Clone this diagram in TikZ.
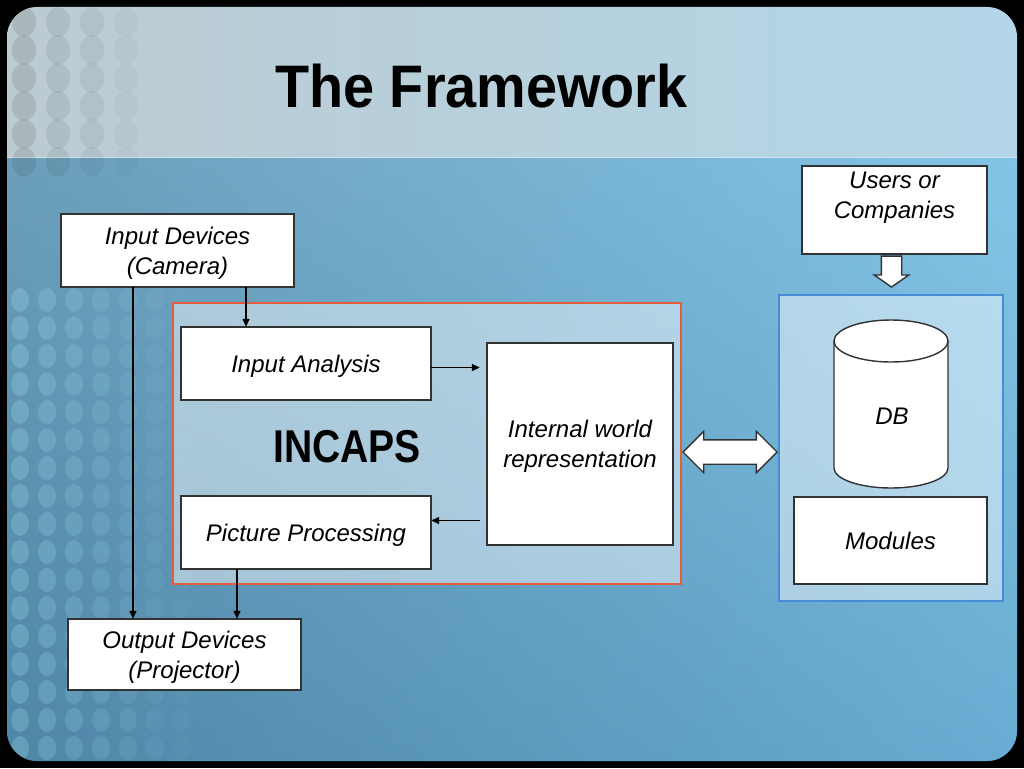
\documentclass[tikz,border=0pt]{standalone}
\usepackage{fontspec}
\setmainfont{Liberation Sans}
\usetikzlibrary{shapes.arrows,arrows.meta,calc}
\definecolor{topL}{RGB}{188,203,209}
\definecolor{topM}{RGB}{224,237,242}
\definecolor{topR}{RGB}{178,214,232}
\definecolor{lowT}{RGB}{150,203,228}
\definecolor{lowB}{RGB}{100,158,192}
\definecolor{hL}{RGB}{55,105,135}
\definecolor{hM}{RGB}{205,232,245}
\definecolor{hR}{RGB}{110,190,235}
\definecolor{boxline}{RGB}{50,50,50}
\definecolor{redline}{RGB}{228,92,60}
\definecolor{blueline}{RGB}{70,140,215}
\definecolor{dotc}{RGB}{160,225,240}
\begin{document}
\begin{tikzpicture}[x=1pt,y=-1pt,
  box/.style={fill=white, inner sep=0pt, align=center,
    text depth=0pt, font=\fontsize{24}{30}\selectfont\itshape},
  outline/.style={draw=boxline, line width=1.9pt},
  arr/.style={line width=1.3pt, draw=black, -{Triangle[length=8pt,width=7pt]}},
  blockarr/.style={draw=boxline, line width=1.4pt, fill=white, inner xsep=0pt},
  txt/.style={font=\fontsize{24}{30}\selectfont\itshape, align=center, inner sep=0pt, text depth=0pt}]
\useasboundingbox (0,0) rectangle (1024,768);
\fill[black] (0,0) rectangle (1024,768);
\begin{scope}
  \clip[rounded corners=30pt] (7,7) rectangle (1017,761);
  \shade[left color=topL, middle color=topM, right color=topR] (7,7) rectangle (1017,157);
  \shade[top color=lowT, bottom color=lowB] (7,157) rectangle (1017,761);
  \shade[left color=hL, middle color=hM, right color=hR, opacity=0.45] (7,157) rectangle (1017,761);
  \draw[white!70!lowB, line width=1pt] (7,157) -- (1017,157);
  % decorative dots, upper left
  \foreach \i in {0,...,3}{
    \foreach \j in {0,...,5}{
      \pgfmathsetmacro{\op}{0.13-0.03*\i}
      \fill[black!70!topL, opacity=\op] (24+\i*34, 22+\j*28) ellipse [x radius=12pt, y radius=15pt];
    }
  }
  % decorative dots, lower left
  \foreach \i in {0,...,6}{
    \foreach \j in {0,...,16}{
      \pgfmathsetmacro{\op}{0.26-0.036*\i}
      \fill[dotc, opacity=\op] (20+\i*27, 300+\j*28) ellipse [x radius=9pt, y radius=12pt];
    }
  }
\end{scope}

% title
\node[anchor=base, font=\fontsize{60}{60}\selectfont\bfseries, xscale=0.93, inner sep=0pt] (title) at (481.5,107) {The Framework};

% containers
\node[fill=white, fill opacity=0.45, minimum width=508pt, minimum height=281pt, inner sep=0pt] (redbox) at (427,443.5) {};
\node[fill=white, fill opacity=0.45, minimum width=224pt, minimum height=306pt, inner sep=0pt] (bluebox) at (891,448) {};
\draw[redline, line width=1.6pt] (redbox.north west) rectangle (redbox.south east);
\draw[blueline, line width=1.8pt] (bluebox.north west) rectangle (bluebox.south east);

% boxes
\node[box, minimum width=233pt, minimum height=73pt] (indev) at (177.5,250.5) {Input Devices\\(Camera)};
\node[box, minimum width=185pt, minimum height=88pt] (users) at (894.5,210) {Users or\\Companies\\\mbox{}};
\node[box, minimum width=250pt, minimum height=73pt] (inana) at (306,363.5) {Input Analysis};
\node[box, minimum width=250pt, minimum height=72pt] (picproc) at (306,532.5) {Picture Processing};
\node[box, minimum width=186pt, minimum height=202pt] (iwr) at (580,444) {Internal world\\representation};
\node[box, minimum width=193pt, minimum height=87pt] (modules) at (890.5,540.5) {Modules};
\node[box, minimum width=233pt, minimum height=71pt] (outdev) at (184.5,654.5) {Output Devices\\(Projector)};
\foreach \n in {indev,users,inana,picproc,iwr,modules,outdev}
  \draw[outline] (\n.north west) rectangle (\n.south east);

% INCAPS label
\node[anchor=base, font=\fontsize{46}{46}\selectfont\bfseries, xscale=0.85, inner sep=0pt] (incaps) at (347,462) {INCAPS};

% DB cylinder
\draw[draw=boxline, line width=1.4pt, fill=white]
  (834,341) -- (834,468) arc[start angle=180, end angle=360, x radius=57pt, y radius=20pt]
  -- (948,341) arc[start angle=0, end angle=180, x radius=57pt, y radius=21pt] -- cycle;
\draw[draw=boxline, line width=1.4pt] (834,341) arc[start angle=180, end angle=360, x radius=57pt, y radius=21pt];
\node[txt] (db) at (892,416) {DB};

% block arrows
\node[blockarr, single arrow, rotate=-90, inner ysep=9.5pt, minimum height=31pt, single arrow head extend=7pt, single arrow tip angle=110] (usersarrow) at (891.5,268) {};
\node[blockarr, double arrow, inner ysep=11.5pt, minimum height=94pt, double arrow head extend=8.5pt] (dbl) at (730,452) {};

% connectors
\draw[arr] ([xshift=68.5pt]indev.south) -- ([xshift=-60pt]inana.north);
\draw[arr] ([xshift=-44.5pt]indev.south) -- ([xshift=-51.5pt]outdev.north);
\draw[arr] ([xshift=-69pt]picproc.south) -- ([xshift=52.5pt]outdev.north);
\coordinate (iaout) at ([yshift=-4pt]inana.east);
\draw[arr, shorten >=7pt] (iaout) -- (iaout -| iwr.west);
\coordinate (ppin) at ([yshift=12pt]picproc.east);
\draw[arr, shorten <=7pt] (ppin -| iwr.west) -- (ppin);
\end{tikzpicture}
\end{document}
